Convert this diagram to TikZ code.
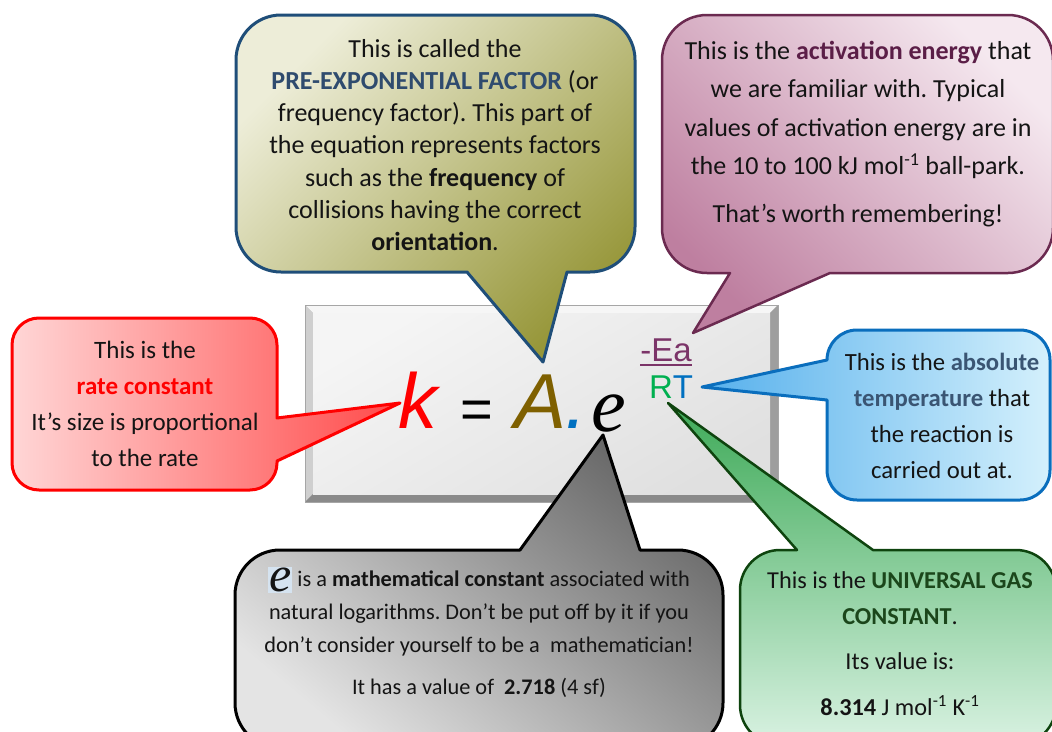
\documentclass[tikz,border=0pt]{standalone}
\usepackage{fontspec}
\setmainfont{Carlito}
\newfontfamily\eqsans{Liberation Sans}
\newfontfamily\eqserif{Liberation Serif}
\frenchspacing
\definecolor{oliveL}{HTML}{EDEDD8}
\definecolor{oliveD}{HTML}{97973A}
\definecolor{oliveB}{HTML}{1F4E79}
\definecolor{pinkL}{HTML}{F5E8EF}
\definecolor{pinkD}{HTML}{BE7FA0}
\definecolor{pinkB}{HTML}{6B2A50}
\definecolor{redL}{HTML}{FFD6D6}
\definecolor{redD}{HTML}{FF4A4A}
\definecolor{blueL}{HTML}{D4F0FC}
\definecolor{blueD}{HTML}{56B0EC}
\definecolor{blueB}{HTML}{0A6EBD}
\definecolor{greenD}{HTML}{3EAA58}
\definecolor{greenL}{HTML}{D9F2E2}
\definecolor{greenB}{HTML}{0E440E}
\definecolor{grayD}{HTML}{686868}
\definecolor{grayL}{HTML}{E4E4E4}
\definecolor{preblue}{HTML}{2F4B6E}
\definecolor{actcol}{HTML}{5B1E47}
\definecolor{absc}{HTML}{3A5573}
\definecolor{gasc}{HTML}{1B461B}
\definecolor{Acol}{HTML}{7F6000}
\definecolor{dotblue}{HTML}{0070C0}
\definecolor{eacol}{HTML}{7B3468}
\definecolor{Rgreen}{HTML}{00B050}
\definecolor{txtc}{HTML}{141414}
\definecolor{ehl}{HTML}{D5E3F0}
\definecolor{bevT}{HTML}{F6F6F6}
\definecolor{bevL}{HTML}{CFCFCF}
\definecolor{bevR}{HTML}{9E9E9E}
\definecolor{bevB}{HTML}{8A8A8A}
\tikzset{
  callout/.style={line width=3pt, line join=round},
  txt/.style={align=center, inner sep=0pt, text=txtc},
  eqpart/.style={anchor=base, inner sep=0pt},
}
\begin{document}
\begin{tikzpicture}[x=1pt,y=-1pt]
\useasboundingbox (0,0) rectangle (1052,731);
\fill[white] (0,0) rectangle (1052,731);
\clip (0,0) rectangle (1052,731);

% tail tips
\coordinate (tipK) at (400,403);
\coordinate (tipA) at (543,362);
\coordinate (tipEa) at (693,333);
\coordinate (tipRT) at (702,387);
\coordinate (tipR) at (668,403);
\coordinate (tipE) at (603,435);

% main equation box (bevelled)
\fill[bevB] (305,305) rectangle (778,502);
\fill[bevT] (305,305) -- (778,305) -- (770,313) -- (313,313) -- cycle;
\fill[bevL] (305,305) -- (313,313) -- (313,494) -- (305,502) -- cycle;
\fill[bevR] (778,305) -- (770,313) -- (770,494) -- (778,502) -- cycle;
\fill[bevB] (305,502) -- (313,494) -- (770,494) -- (778,502) -- cycle;
\shade[top color=white!96!black, bottom color=white!88!black, shading angle=30] (313,313) rectangle (770,494);
\draw[black!35, line width=0.8pt] (305,305) rectangle (778,502);

% olive callout
\draw[callout, draw=oliveB, top color=oliveL, bottom color=oliveD, shading angle=45]
  (567,272) [rounded corners=45] -- (635,272) -- (635,15) -- (236,15) -- (236,272)
  [sharp corners] -- (467,272) -- (tipA) -- cycle;

% pink callout
\draw[callout, line width=2.5pt, draw=pinkB, top color=pinkL, bottom color=pinkD, shading angle=-45]
  (830,273) [rounded corners=45] -- (1053,273) -- (1053,15) -- (662,15) -- (662,273)
  [sharp corners] -- (730,273) -- (tipEa) -- cycle;

% red callout
\draw[callout, draw=red, left color=redL, right color=redD]
  (277,461) [rounded corners=27] -- (277,490) -- (12,490) -- (12,318) -- (277,318)
  [sharp corners] -- (277,418) -- (tipK) -- cycle;

% blue callout
\draw[callout, draw=blueB, left color=blueD, right color=blueL]
  (827,360) [rounded corners=30] -- (827,330) -- (1050,330) -- (1050,500) -- (827,500)
  [sharp corners] -- (827,400) -- (tipRT) -- cycle;

% green callout
\draw[callout, line width=2.5pt, draw=greenB, top color=greenD, bottom color=greenL]
  (873,550) [rounded corners=40] -- (1056,550) -- (1056,745) -- (740,745) -- (740,550)
  [sharp corners] -- (797,550) -- (tipR) -- cycle;

% gray callout
\draw[callout, draw=black, top color=grayD, bottom color=grayL, shading angle=-40]
  (640,550) [rounded corners=45] -- (723,550) -- (723,748) -- (235,748) -- (235,550)
  [sharp corners] -- (520,550) -- (tipE) -- cycle;

% equation
\node[eqpart, text=red, font=\eqsans\itshape\fontsize{78}{78}\selectfont] (k) at (418,428) {k};
\node[eqpart, text=black, font=\eqsans\fontsize{56}{56}\selectfont] (eqs) at (477,428) {=};
\node[eqpart, text=Acol, font=\eqsans\itshape\fontsize{78}{78}\selectfont] (A) at (541,428) {A};
\node[eqpart, text=dotblue, font=\eqsans\itshape\fontsize{78}{78}\selectfont] (dot) at (576,428) {.};
\node[eqpart, text=black, font=\eqserif\itshape\fontsize{78}{78}\selectfont] (e) at (609,431) {e};
\node[eqpart, text=eacol, font=\eqsans\fontsize{33}{33}\selectfont] (Ea) at (666,361) {-Ea};
\draw[eacol, line width=2pt] ([yshift=-3.5pt]Ea.south west) -- ([yshift=-3.5pt]Ea.south east);
\node[eqpart, font=\eqsans\fontsize{33}{33}\selectfont] (RT) at (671,398) {\textcolor{Rgreen}{R}\textcolor{dotblue}{T}};

% texts
\node[txt, font=\fontsize{26}{32.2}\selectfont] (oliveT) at (435,145)
  {This is called the\\ \textcolor{preblue}{\textbf{PRE-EXPONENTIAL FACTOR}} (or\\ frequency factor). This part of\\ the equation represents factors\\ such as the \textbf{frequency} of\\ collisions having the correct\\ \textbf{orientation}.};

\node[txt, font=\fontsize{26}{38.3}\selectfont] (pinkT) at (858,134)
  {This is the \textcolor{actcol}{\textbf{activation energy}} that\\ we are familiar with. Typical\\ values of activation energy are in\\ the 10 to 100 kJ mol\textsuperscript{-1} ball-park.\\[9.7pt] That’s worth remembering!};

\node[txt, font=\fontsize{25}{36}\selectfont] (redT) at (145,404)
  {This is the\\ \textcolor{red}{\textbf{rate constant}}\\ It’s size is proportional\\ to the rate};

\node[txt, font=\fontsize{24.7}{36}\selectfont] (blueT) at (942,416)
  {This is the \textcolor{absc}{\textbf{absolute}}\\ \textcolor{absc}{\textbf{temperature}} that\\ the reaction is\\ carried out at.};

\node[txt, font=\fontsize{24.3}{36}\selectfont] (greenT) at (900,644)
  {This is the \textcolor{gasc}{\textbf{UNIVERSAL GAS}}\\ \textcolor{gasc}{\textbf{CONSTANT}}.\\[9pt] Its value is:\\[10pt] \textbf{8.314} J mol\textsuperscript{-1} K\textsuperscript{-1}};

\node[txt, font=\fontsize{22.3}{33}\selectfont] (grayT) at (479,634)
  {\smash{\raisebox{-5pt}{\setlength{\fboxsep}{1pt}\colorbox{ehl}{\eqserif\itshape\fontsize{50}{50}\selectfont e}}} is a \textbf{mathematical constant} associated with\\ natural logarithms. Don’t be put off by it if you\\ don’t consider yourself to be a\ \ mathematician!\\[9pt] It has a value of\ \ \textbf{2.718} (4 sf)};
\end{tikzpicture}
\end{document}
